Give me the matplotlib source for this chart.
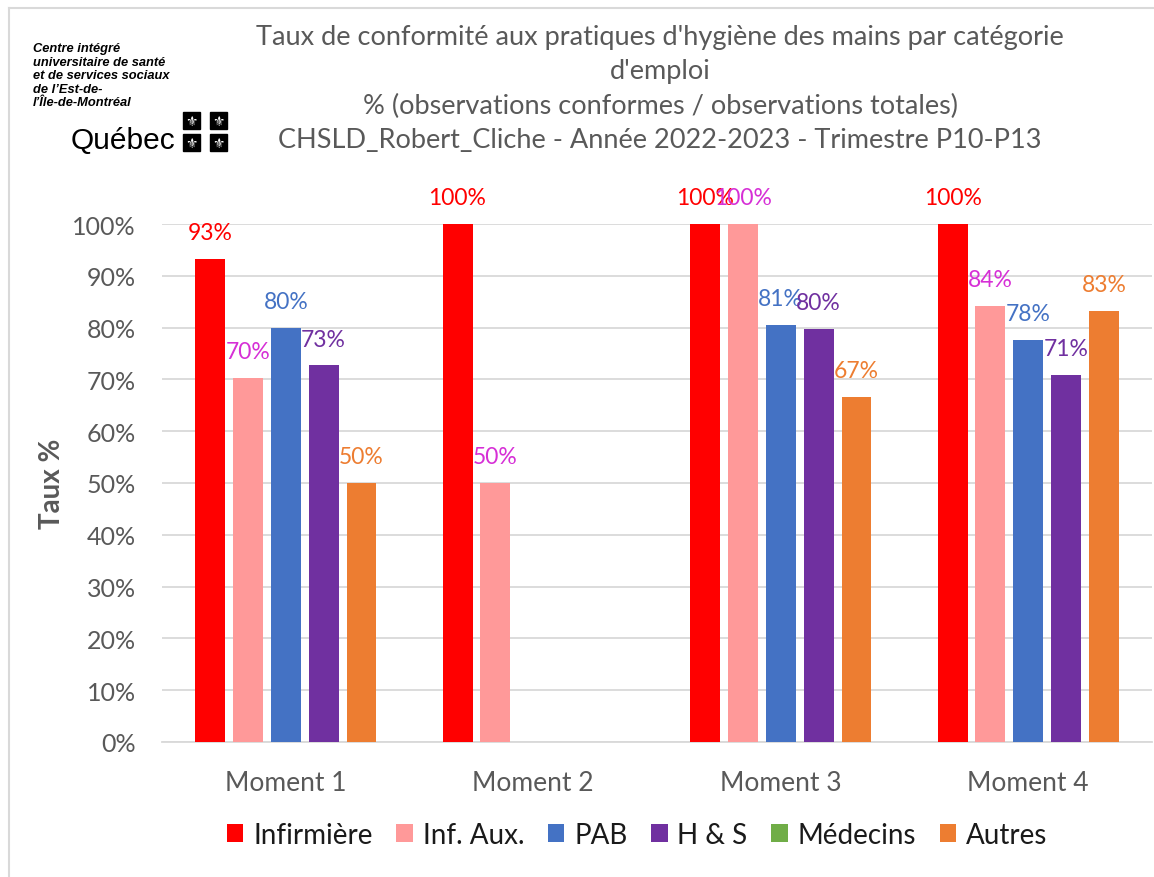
import numpy as np
import matplotlib
matplotlib.use("Agg")
import matplotlib.pyplot as plt
from matplotlib.patches import Patch, Rectangle
from matplotlib.lines import Line2D

plt.rcParams['font.family'] = ['Lato', 'DejaVu Sans']

moments = ["Moment 1", "Moment 2", "Moment 3", "Moment 4"]
series = ["Infirmière", "Inf. Aux.", "PAB", "H & S", "Médecins", "Autres"]
infirmiere = [93.3, 100, 100, 100]
inf_aux = [70.2, 50, 100, 84.2]
pab = [80.0, np.nan, 80.6, 77.6]
hs = [72.7, np.nan, 79.7, 70.8]
medecins = [np.nan, np.nan, np.nan, np.nan]
autres = [50.0, np.nan, 66.7, 83.3]

bar_colors = ["#FF0000", "#FF9999", "#4472C4", "#7030A0", "#70AD47", "#ED7D31"]
label_colors = ["#FF0000", "#D62FD6", "#4472C4", "#7030A0", "#70AD47", "#ED7D31"]
values = [infirmiere, inf_aux, pab, hs, medecins, autres]

title = ("Taux de conformité aux pratiques d'hygiène des mains par catégorie\n"
         "d'emploi\n"
         "% (observations conformes / observations totales)\n"
         "CHSLD_Robert_Cliche - Année 2022-2023 - Trimestre P10-P13")

fig = plt.figure(figsize=(11.54, 8.78), dpi=100)
ax = fig.add_axes([0.1404, 0.1538, 0.8579, 0.5899])

x = np.arange(len(moments))
# only series with data get a slot in the group
drawn = [i for i, v in enumerate(values) if not np.all(np.isnan(v))]
step = 0.153
width = 0.121
for k, i in enumerate(drawn):
    off = (k - (len(drawn) - 1) / 2) * step
    vals = np.array(values[i], dtype=float)
    ax.bar(x + off, vals, width, color=bar_colors[i], linewidth=0, zorder=3)
    for xi, v in zip(x + off, vals):
        if np.isnan(v):
            continue
        ax.annotate(f"{v:.0f}%", (xi, v), xytext=(0, 19), textcoords="offset points",
                    ha="center", va="center", fontsize=16.5, color=label_colors[i])

ax.set_xlim(-0.5, 3.5)
ax.set_ylim(0, 100)
ax.set_yticks(np.arange(0, 101, 10))
ax.set_yticklabels([f"{t}%" for t in range(0, 101, 10)])
ax.set_xticks(x)
ax.set_xticklabels(moments)
ax.tick_params(axis="both", length=0, colors="#595959")
ax.tick_params(axis="y", pad=19, labelsize=18)
ax.tick_params(axis="x", pad=20, labelsize=19)
ax.grid(axis="y", color="#D9D9D9", linewidth=1.3, zorder=0)
for s in ["top", "right", "left"]:
    ax.spines[s].set_visible(False)
ax.spines["bottom"].set_color("#D9D9D9")
ax.spines["bottom"].set_linewidth(1.3)
ax.set_ylabel("Taux %", fontsize=20, fontweight="bold", color="#595959")
ax.yaxis.set_label_coords(-0.098, 0.5)

fig.text(0.572, 0.972, title, ha="center", va="top", fontsize=19.5, color="#595959",
         linespacing=1.47)

handles = [Patch(facecolor=c, edgecolor="none") for c in bar_colors]
fig.legend(handles, series, loc="center", bbox_to_anchor=(0.552, 1 - 836 / 878), ncol=6,
           frameon=False, fontsize=20, handlelength=0.6, handleheight=0.6,
           handletextpad=0.35, columnspacing=0.85, labelcolor="#1a1a1a")

# logo
logo = "Centre intégré\nuniversitaire de santé\net de services sociaux\nde l’Est-de-\nl’Île-de-Montréal"
fig.text(33 / 1154, 1 - 43 / 878, logo, ha="left", va="top", fontsize=9.3,
         fontweight="bold", fontstyle="italic", family=["Liberation Sans", "DejaVu Sans"],
         linespacing=1.17, color="black")
fig.text(71 / 1154, 1 - 141 / 878, "Québec", ha="left", va="center", fontsize=21.5,
         family=["Liberation Sans", "DejaVu Sans"], color="black")
for cx in (183, 210):
    for cy in (113, 135):
        fig.patches.append(Rectangle((cx / 1154, 1 - (cy + 17) / 878), 17 / 1154, 17 / 878,
                                     transform=fig.transFigure, color="black"))
        fig.text((cx + 8.5) / 1154, 1 - (cy + 8.5) / 878, "⚜", ha="center", va="center",
                 fontsize=10, color="white", family=["DejaVu Sans"])

# frame lines of the chart area
fig.lines.append(Line2D([9 / 1154, 9 / 1154], [0, 1 - 9 / 878], transform=fig.transFigure,
                        color="#D9D9D9", linewidth=1.5))
fig.lines.append(Line2D([9 / 1154, 1], [1 - 9 / 878, 1 - 9 / 878], transform=fig.transFigure,
                        color="#D9D9D9", linewidth=1.5))

fig.savefig("out.png", dpi=100)
